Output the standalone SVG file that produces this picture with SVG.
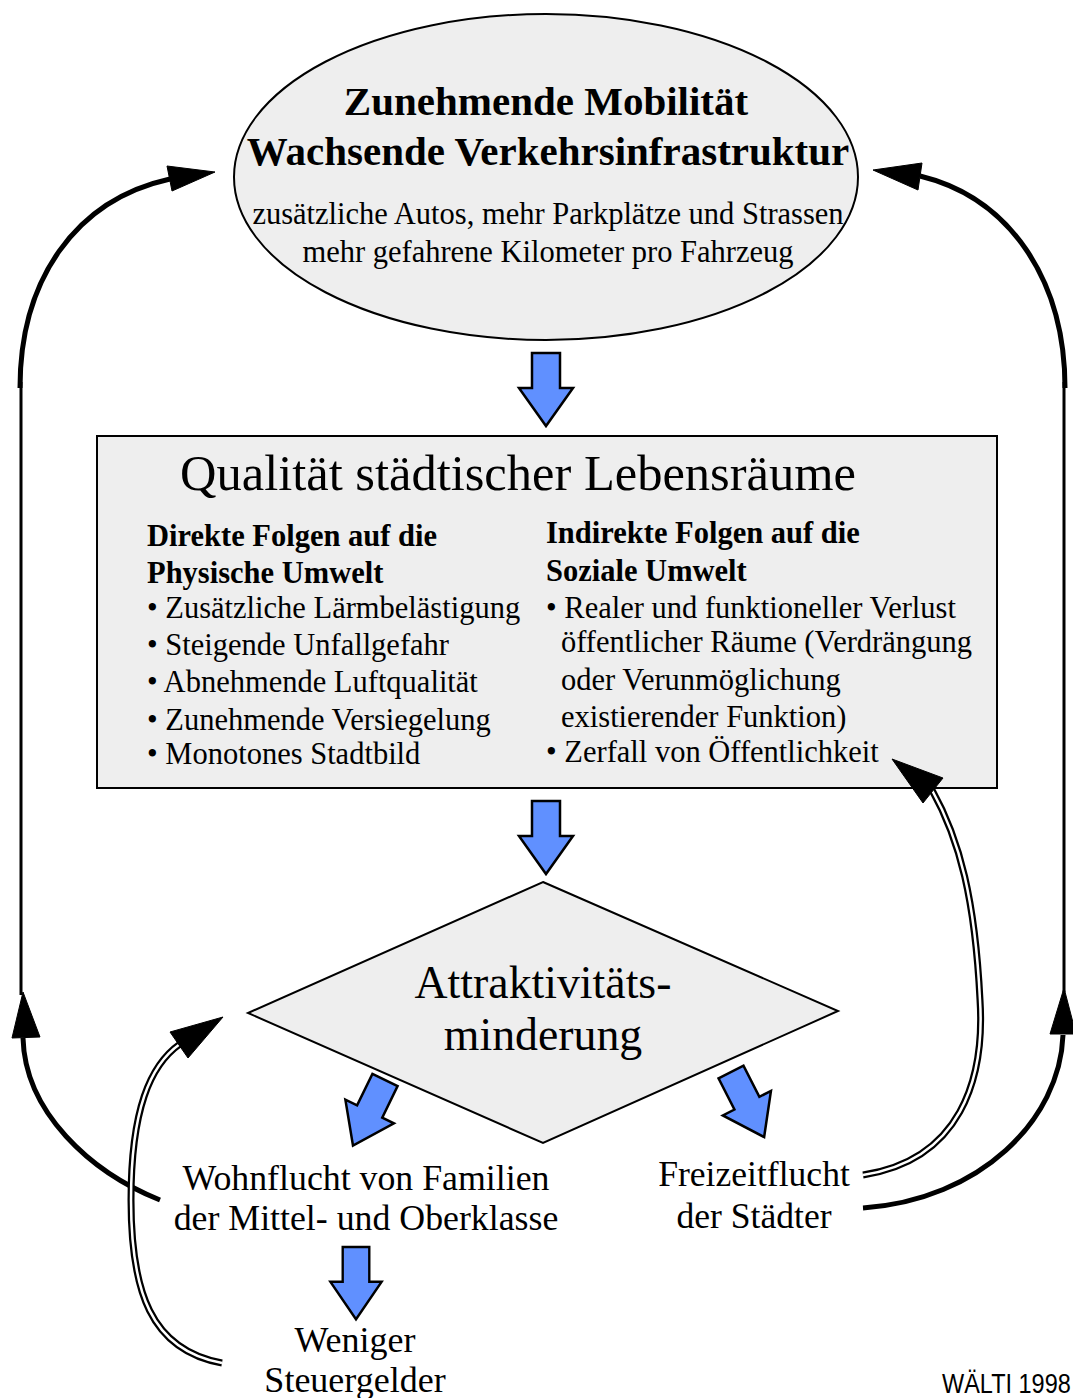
<svg xmlns="http://www.w3.org/2000/svg" width="1073" height="1398" viewBox="0 0 1073 1398">
<style>
.serif{font-family:"Liberation Serif","Times New Roman",serif;fill:#000}
.b{font-weight:bold}
.mid{text-anchor:middle}
.body{font-size:30.5px}
.shape{fill:#eeeeee;stroke:#000;stroke-width:2}
.blue{fill:#6090ff;stroke:#000;stroke-width:2.5;stroke-linejoin:miter}
.thick{fill:none;stroke:#000;stroke-width:5}
.thin{fill:none;stroke:#000;stroke-width:3}
.dblo{fill:none;stroke:#000;stroke-width:7}
.dbli{fill:none;stroke:#fff;stroke-width:2.5}
.head{fill:#000;stroke:#000;stroke-width:1}
</style>
<defs>
<polygon id="bdown" points="-14,0 14,0 14,35 27,35 0,73 -27,35 -14,35"/>
</defs>
<rect width="1073" height="1398" fill="#fff"/>

<g id="mobilitaet">
<ellipse class="shape" cx="546" cy="177" rx="312" ry="163"/>
<text class="serif b mid" x="546" y="115" font-size="41">Zunehmende Mobilität</text>
<text class="serif b mid" x="548" y="165" font-size="41">Wachsende Verkehrsinfrastruktur</text>
<text class="serif mid body" x="548" y="224">zusätzliche Autos, mehr Parkplätze und Strassen</text>
<text class="serif mid body" x="548" y="262">mehr gefahrene Kilometer pro Fahrzeug</text>
</g>

<g id="qualitaet">
<rect class="shape" x="97" y="436" width="900" height="352"/>
<text class="serif" x="180" y="490" font-size="50.5">Qualität städtischer Lebensräume</text>
<text class="serif b body" x="147" y="546">Direkte Folgen auf die</text>
<text class="serif b body" x="147" y="583">Physische Umwelt</text>
<text class="serif body" x="147" y="618">• Zusätzliche Lärmbelästigung</text>
<text class="serif body" x="147" y="655">• Steigende Unfallgefahr</text>
<text class="serif body" x="147" y="692">• Abnehmende Luftqualität</text>
<text class="serif body" x="147" y="730">• Zunehmende Versiegelung</text>
<text class="serif body" x="147" y="764">• Monotones Stadtbild</text>
<text class="serif b body" x="546" y="543">Indirekte Folgen auf die</text>
<text class="serif b body" x="546" y="581">Soziale Umwelt</text>
<text class="serif body" x="546" y="618">• Realer und funktioneller Verlust</text>
<text class="serif body" x="561" y="652">öffentlicher Räume (Verdrängung</text>
<text class="serif body" x="561" y="690">oder Verunmöglichung</text>
<text class="serif body" x="561" y="727">existierender Funktion)</text>
<text class="serif body" x="546" y="762">• Zerfall von Öffentlichkeit</text>
</g>

<g id="attraktivitaet">
<polygon class="shape" points="543,882 838,1011 543,1143 248,1013"/>
<text class="serif mid" x="543" y="998" font-size="45.8">Attraktivitäts-</text>
<text class="serif mid" x="543" y="1050" font-size="45.8">minderung</text>
</g>

<g id="wohnflucht">
<text class="serif mid" x="366" y="1190" font-size="35.8">Wohnflucht von Familien</text>
<text class="serif mid" x="366" y="1230" font-size="35.8">der Mittel- und Oberklasse</text>
</g>

<g id="freizeitflucht">
<text class="serif mid" x="754" y="1186" font-size="35.6">Freizeitflucht</text>
<text class="serif mid" x="754" y="1228" font-size="35.6">der Städter</text>
</g>

<g id="steuergelder">
<text class="serif mid" x="355" y="1352" font-size="36">Weniger</text>
<text class="serif mid" x="355" y="1392" font-size="36">Steuergelder</text>
</g>

<g id="credit">
<text transform="translate(942,1393) scale(1,1.18)" font-size="23.5" font-family="Liberation Sans, Arial, sans-serif">WÄLTI 1998</text>
</g>

<g id="connectors">
<!-- left loop -->
<path class="thick" d="M160,1200 C90,1172 25,1112 23,1038"/>
<line class="thin" x1="21" y1="995" x2="21" y2="382"/>
<path class="thick" d="M20,388 C20,280 75,200 170,179"/>
<polygon class="head" points="215,172 167,166 172,191"/>
<polygon class="head" points="23,992 12,1038 40,1037"/>
<!-- right loop -->
<path class="thick" d="M863,1208 C980,1200 1060,1120 1063,1035"/>
<line class="thin" x1="1064" y1="992" x2="1064" y2="382"/>
<path class="thick" d="M1065,388 C1065,280 1010,198 920,176"/>
<polygon class="head" points="873,170 922,163 918,190"/>
<polygon class="head" points="1064,988 1050,1034 1076,1034"/>
<!-- double connector left -->
<path class="dblo" d="M222,1363 C150,1350 131,1290 131,1200 C131,1110 150,1065 180,1044"/>
<path class="dbli" d="M222,1363 C150,1350 131,1290 131,1200 C131,1110 150,1065 180,1044"/>
<polygon class="head" points="223,1017 170,1032 188,1058"/>
<!-- double connector right -->
<path class="dblo" d="M863,1175 C960,1160 985,1080 980,1000 C975,900 960,840 932,790"/>
<path class="dbli" d="M863,1175 C960,1160 985,1080 980,1000 C975,900 960,840 932,790"/>
<polygon class="head" points="892,759 943,778 923,803"/>
<!-- blue arrows -->
<use href="#bdown" class="blue" transform="translate(546,353)"/>
<use href="#bdown" class="blue" transform="translate(546,801)"/>
<use href="#bdown" class="blue" transform="translate(385,1080) rotate(26)"/>
<use href="#bdown" class="blue" transform="translate(731,1072) rotate(-27)"/>
<use href="#bdown" class="blue" transform="translate(356,1247) scale(0.95,0.99)"/>
</g>
</svg>
